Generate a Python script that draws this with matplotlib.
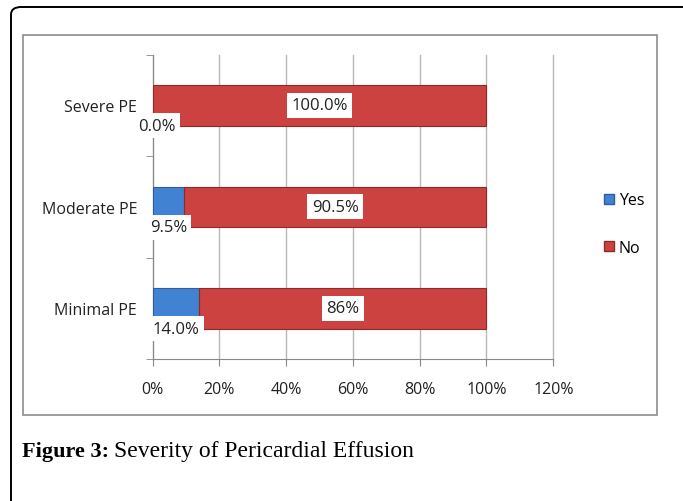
import numpy as np
import matplotlib
matplotlib.use("Agg")
import matplotlib.pyplot as plt
from matplotlib.patches import FancyBboxPatch, Rectangle, Patch

categories = ["Minimal PE", "Moderate PE", "Severe PE"]
yes_pct = [14.0, 9.5, 0.0]
no_pct = [86.0, 90.5, 100.0]
yes_labels = ["14.0%", "9.5%", "0.0%"]
no_labels = ["86%", "90.5%", "100.0%"]
xticks = [0, 20, 40, 60, 80, 100, 120]

W, H = 683, 502
fig = plt.figure(figsize=(W / 100, H / 100), dpi=100)
plt.rcParams['font.family'] = ['Open Sans', 'DejaVu Sans']

# outer rounded frame and inner chart frame
fig.patches.append(FancyBboxPatch((11 / W, -0.1), 1.0, 1 - 8 / H + 0.1,
                                  boxstyle="round,pad=0,rounding_size=0.015",
                                  transform=fig.transFigure, fill=False,
                                  edgecolor="black", linewidth=1.4))
fig.patches.append(Rectangle((23 / W, 1 - 416 / H), (657 - 23) / W, (416 - 36) / H,
                             transform=fig.transFigure, fill=False,
                             edgecolor="#8c8c8c", linewidth=1.2))

ax = fig.add_axes([152.5 / W, 1 - 360 / H, (553.3 - 152.5) / W, (360 - 55.6) / H])

red = "#cc4240"
blue = "#4182d2"
y = np.arange(len(categories))
ax.barh(y, yes_pct, height=0.4, color=blue, edgecolor="#2d5f9e", linewidth=0.8, label="Yes", zorder=3)
ax.barh(y, no_pct, left=yes_pct, height=0.4, color=red, edgecolor="#8e2a28", linewidth=0.8, label="No", zorder=3)

box = dict(facecolor="white", edgecolor="none", pad=3.2)
for i in range(len(categories)):
    ax.text(max(yes_pct[i] / 2, 1.4), y[i] - 0.2, yes_labels[i], ha="center", va="center",
            fontsize=12, bbox=box, zorder=5, color="#222222")
    ax.text(yes_pct[i] + no_pct[i] / 2, y[i], no_labels[i], ha="center", va="center",
            fontsize=12, bbox=box, zorder=5, color="#222222")

ax.set_xlim(0, 120)
ax.set_ylim(-0.5, 2.5)
ax.set_xticks(xticks)
ax.set_xticklabels([f"{t}%" for t in xticks], fontsize=11.5, color="#222222")
ax.set_yticks(y)
ax.set_yticklabels(categories, fontsize=11.5, color="#222222")
ax.set_yticks([-0.5, 0.5, 1.5, 2.5], minor=True)
ax.tick_params(axis="y", which="major", length=0, pad=11)
ax.tick_params(axis="y", which="minor", length=5, color="#888888", direction="out")
ax.tick_params(axis="x", length=5, color="#888888", pad=11)
ax.xaxis.grid(True, color="#b8b8b8", linewidth=1, zorder=0)
for gl in ax.get_xgridlines():
    gl.set_clip_on(False)
ax.set_axisbelow(True)
for s in ["top", "right"]:
    ax.spines[s].set_visible(False)
ax.spines["left"].set_color("#888888")
ax.spines["bottom"].set_color("#888888")

handles = [Patch(facecolor=blue, edgecolor="#2d5f9e"), Patch(facecolor=red, edgecolor="#8e2a28")]
fig.legend(handles, ["Yes", "No"], loc="center left", bbox_to_anchor=(590 / W, 1 - 225 / H),
           frameon=False, fontsize=11.5, handlelength=0.6, handleheight=0.6,
           labelspacing=1.95, handletextpad=0.3)

fig.text(22 / W, 1 - 452 / H, "Figure 3:", fontsize=16, fontweight="bold",
         family="Liberation Serif", va="center")
fig.text(114 / W, 1 - 452 / H, "Severity of Pericardial Effusion", fontsize=17,
         family="Liberation Serif", va="center")

fig.savefig("out.png", dpi=100)
